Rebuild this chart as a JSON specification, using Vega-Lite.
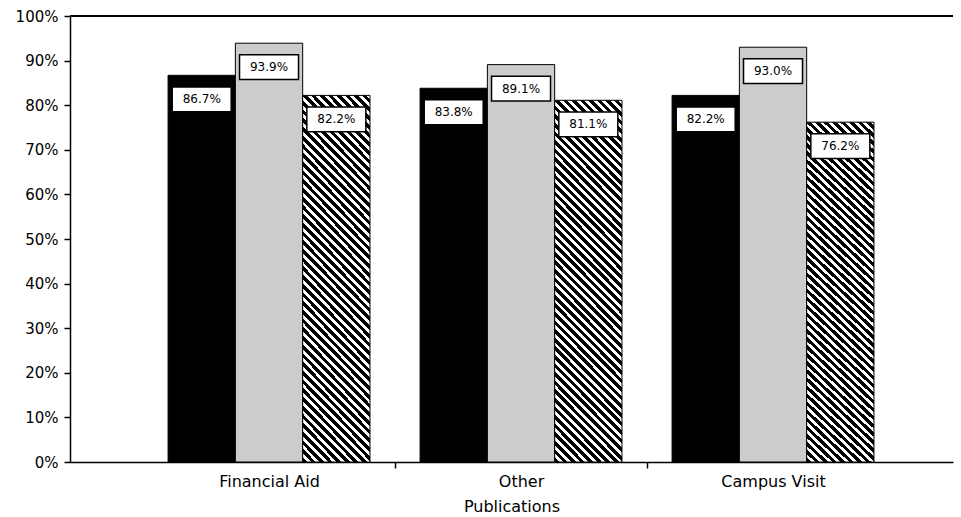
{
  "$schema": "https://vega.github.io/schema/vega-lite/v6.json",
  "width": 883,
  "height": 446,
  "autosize": "none",
  "padding": {"left": 70, "top": 16, "right": 8, "bottom": 55},
  "background": "white",
  "config": {"view": {"stroke": null}, "font": "DejaVu Sans"},
  "data": {"values": [
    {"cat": "Financial Aid", "s": "A", "v": 0.867},
    {"cat": "Financial Aid", "s": "B", "v": 0.939},
    {"cat": "Financial Aid", "s": "C", "v": 0.822},
    {"cat": "Other", "s": "A", "v": 0.838},
    {"cat": "Other", "s": "B", "v": 0.891},
    {"cat": "Other", "s": "C", "v": 0.811},
    {"cat": "Campus Visit", "s": "A", "v": 0.822},
    {"cat": "Campus Visit", "s": "B", "v": 0.930},
    {"cat": "Campus Visit", "s": "C", "v": 0.762}
  ]},
  "layer": [
    {
      "mark": {"type": "bar", "stroke": "#000", "strokeWidth": 1},
      "encoding": {
        "x": {"field": "cat", "type": "nominal", "sort": ["Financial Aid", "Other", "Campus Visit"],
              "scale": {"paddingInner": 0, "paddingOuter": 0.252, "align": 0.575},
              "axis": {"title": "Publications", "titleFontSize": 16, "titleFontWeight": "normal", "titleColor": "#000", "titlePadding": 9,
                       "labelFontSize": 16, "labelColor": "#000", "labelAngle": 0, "labelPadding": 5,
                       "tickSize": 6, "tickColor": "#000", "tickWidth": 1.5, "tickBand": "extent",
                       "tickOpacity": {"condition": {"test": "datum.value === 'Campus Visit' || datum.index < 0", "value": 0}, "value": 1},
                       "domainColor": "#000", "domainWidth": 1.5}},
        "xOffset": {"field": "s", "type": "nominal", "scale": {"paddingInner": 0, "paddingOuter": 0.372}},
        "y": {"field": "v", "type": "quantitative", "scale": {"domain": [0, 1], "nice": false},
              "axis": {"title": null, "values": [0, 0.1, 0.2, 0.3, 0.4, 0.5, 0.6, 0.7, 0.8, 0.9, 1], "format": ".0%",
                       "grid": false, "labelFontSize": 15, "labelColor": "#000", "labelPadding": 6,
                       "tickSize": 6, "tickColor": "#000", "tickWidth": 1.5, "domainColor": "#000", "domainWidth": 1.5}},
        "fill": {"condition": [
          {"test": "datum.s === 'A'", "value": "#000000"},
          {"test": "datum.s === 'B'", "value": "#cccccc"}],
          "value": {"gradient": "linear", "x1": 0, "y1": 1, "x2": 0.2153, "y2": -0.1476, "stops": [
{"offset":0,"color":"#000"},{"offset":0.011,"color":"#000"},{"offset":0.011,"color":"#fff"},{"offset":0.02,"color":"#fff"},
{"offset":0.02,"color":"#000"},{"offset":0.031,"color":"#000"},{"offset":0.031,"color":"#fff"},{"offset":0.04,"color":"#fff"},
{"offset":0.04,"color":"#000"},{"offset":0.051,"color":"#000"},{"offset":0.051,"color":"#fff"},{"offset":0.06,"color":"#fff"},
{"offset":0.06,"color":"#000"},{"offset":0.071,"color":"#000"},{"offset":0.071,"color":"#fff"},{"offset":0.08,"color":"#fff"},
{"offset":0.08,"color":"#000"},{"offset":0.091,"color":"#000"},{"offset":0.091,"color":"#fff"},{"offset":0.10,"color":"#fff"},
{"offset":0.10,"color":"#000"},{"offset":0.111,"color":"#000"},{"offset":0.111,"color":"#fff"},{"offset":0.12,"color":"#fff"},
{"offset":0.12,"color":"#000"},{"offset":0.131,"color":"#000"},{"offset":0.131,"color":"#fff"},{"offset":0.14,"color":"#fff"},
{"offset":0.14,"color":"#000"},{"offset":0.151,"color":"#000"},{"offset":0.151,"color":"#fff"},{"offset":0.16,"color":"#fff"},
{"offset":0.16,"color":"#000"},{"offset":0.171,"color":"#000"},{"offset":0.171,"color":"#fff"},{"offset":0.18,"color":"#fff"},
{"offset":0.18,"color":"#000"},{"offset":0.191,"color":"#000"},{"offset":0.191,"color":"#fff"},{"offset":0.20,"color":"#fff"},
{"offset":0.20,"color":"#000"},{"offset":0.211,"color":"#000"},{"offset":0.211,"color":"#fff"},{"offset":0.22,"color":"#fff"},
{"offset":0.22,"color":"#000"},{"offset":0.231,"color":"#000"},{"offset":0.231,"color":"#fff"},{"offset":0.24,"color":"#fff"},
{"offset":0.24,"color":"#000"},{"offset":0.251,"color":"#000"},{"offset":0.251,"color":"#fff"},{"offset":0.26,"color":"#fff"},
{"offset":0.26,"color":"#000"},{"offset":0.271,"color":"#000"},{"offset":0.271,"color":"#fff"},{"offset":0.28,"color":"#fff"},
{"offset":0.28,"color":"#000"},{"offset":0.291,"color":"#000"},{"offset":0.291,"color":"#fff"},{"offset":0.30,"color":"#fff"},
{"offset":0.30,"color":"#000"},{"offset":0.311,"color":"#000"},{"offset":0.311,"color":"#fff"},{"offset":0.32,"color":"#fff"},
{"offset":0.32,"color":"#000"},{"offset":0.331,"color":"#000"},{"offset":0.331,"color":"#fff"},{"offset":0.34,"color":"#fff"},
{"offset":0.34,"color":"#000"},{"offset":0.351,"color":"#000"},{"offset":0.351,"color":"#fff"},{"offset":0.36,"color":"#fff"},
{"offset":0.36,"color":"#000"},{"offset":0.371,"color":"#000"},{"offset":0.371,"color":"#fff"},{"offset":0.38,"color":"#fff"},
{"offset":0.38,"color":"#000"},{"offset":0.391,"color":"#000"},{"offset":0.391,"color":"#fff"},{"offset":0.40,"color":"#fff"},
{"offset":0.40,"color":"#000"},{"offset":0.411,"color":"#000"},{"offset":0.411,"color":"#fff"},{"offset":0.42,"color":"#fff"},
{"offset":0.42,"color":"#000"},{"offset":0.431,"color":"#000"},{"offset":0.431,"color":"#fff"},{"offset":0.44,"color":"#fff"},
{"offset":0.44,"color":"#000"},{"offset":0.451,"color":"#000"},{"offset":0.451,"color":"#fff"},{"offset":0.46,"color":"#fff"},
{"offset":0.46,"color":"#000"},{"offset":0.471,"color":"#000"},{"offset":0.471,"color":"#fff"},{"offset":0.48,"color":"#fff"},
{"offset":0.48,"color":"#000"},{"offset":0.491,"color":"#000"},{"offset":0.491,"color":"#fff"},{"offset":0.50,"color":"#fff"},
{"offset":0.50,"color":"#000"},{"offset":0.511,"color":"#000"},{"offset":0.511,"color":"#fff"},{"offset":0.52,"color":"#fff"},
{"offset":0.52,"color":"#000"},{"offset":0.531,"color":"#000"},{"offset":0.531,"color":"#fff"},{"offset":0.54,"color":"#fff"},
{"offset":0.54,"color":"#000"},{"offset":0.551,"color":"#000"},{"offset":0.551,"color":"#fff"},{"offset":0.56,"color":"#fff"},
{"offset":0.56,"color":"#000"},{"offset":0.571,"color":"#000"},{"offset":0.571,"color":"#fff"},{"offset":0.58,"color":"#fff"},
{"offset":0.58,"color":"#000"},{"offset":0.591,"color":"#000"},{"offset":0.591,"color":"#fff"},{"offset":0.60,"color":"#fff"},
{"offset":0.60,"color":"#000"},{"offset":0.611,"color":"#000"},{"offset":0.611,"color":"#fff"},{"offset":0.62,"color":"#fff"},
{"offset":0.62,"color":"#000"},{"offset":0.631,"color":"#000"},{"offset":0.631,"color":"#fff"},{"offset":0.64,"color":"#fff"},
{"offset":0.64,"color":"#000"},{"offset":0.651,"color":"#000"},{"offset":0.651,"color":"#fff"},{"offset":0.66,"color":"#fff"},
{"offset":0.66,"color":"#000"},{"offset":0.671,"color":"#000"},{"offset":0.671,"color":"#fff"},{"offset":0.68,"color":"#fff"},
{"offset":0.68,"color":"#000"},{"offset":0.691,"color":"#000"},{"offset":0.691,"color":"#fff"},{"offset":0.70,"color":"#fff"},
{"offset":0.70,"color":"#000"},{"offset":0.711,"color":"#000"},{"offset":0.711,"color":"#fff"},{"offset":0.72,"color":"#fff"},
{"offset":0.72,"color":"#000"},{"offset":0.731,"color":"#000"},{"offset":0.731,"color":"#fff"},{"offset":0.74,"color":"#fff"},
{"offset":0.74,"color":"#000"},{"offset":0.751,"color":"#000"},{"offset":0.751,"color":"#fff"},{"offset":0.76,"color":"#fff"},
{"offset":0.76,"color":"#000"},{"offset":0.771,"color":"#000"},{"offset":0.771,"color":"#fff"},{"offset":0.78,"color":"#fff"},
{"offset":0.78,"color":"#000"},{"offset":0.791,"color":"#000"},{"offset":0.791,"color":"#fff"},{"offset":0.80,"color":"#fff"},
{"offset":0.80,"color":"#000"},{"offset":0.811,"color":"#000"},{"offset":0.811,"color":"#fff"},{"offset":0.82,"color":"#fff"},
{"offset":0.82,"color":"#000"},{"offset":0.831,"color":"#000"},{"offset":0.831,"color":"#fff"},{"offset":0.84,"color":"#fff"},
{"offset":0.84,"color":"#000"},{"offset":0.851,"color":"#000"},{"offset":0.851,"color":"#fff"},{"offset":0.86,"color":"#fff"},
{"offset":0.86,"color":"#000"},{"offset":0.871,"color":"#000"},{"offset":0.871,"color":"#fff"},{"offset":0.88,"color":"#fff"},
{"offset":0.88,"color":"#000"},{"offset":0.891,"color":"#000"},{"offset":0.891,"color":"#fff"},{"offset":0.90,"color":"#fff"},
{"offset":0.90,"color":"#000"},{"offset":0.911,"color":"#000"},{"offset":0.911,"color":"#fff"},{"offset":0.92,"color":"#fff"},
{"offset":0.92,"color":"#000"},{"offset":0.931,"color":"#000"},{"offset":0.931,"color":"#fff"},{"offset":0.94,"color":"#fff"},
{"offset":0.94,"color":"#000"},{"offset":0.951,"color":"#000"},{"offset":0.951,"color":"#fff"},{"offset":0.96,"color":"#fff"},
{"offset":0.96,"color":"#000"},{"offset":0.971,"color":"#000"},{"offset":0.971,"color":"#fff"},{"offset":0.98,"color":"#fff"},
{"offset":0.98,"color":"#000"},{"offset":0.991,"color":"#000"},{"offset":0.991,"color":"#fff"},{"offset":1,"color":"#fff"}
          ]}}
      }
    },
    {
      "mark": {"type": "point", "shape": "M-1,-0.42H1V0.42H-1Z", "size": 3481, "filled": true, "fill": "#fff", "stroke": "#000", "strokeWidth": 1.5, "opacity": 1, "yOffset": 24},
      "encoding": {
        "x": {"field": "cat", "type": "nominal", "sort": ["Financial Aid", "Other", "Campus Visit"]},
        "xOffset": {"field": "s", "type": "nominal"},
        "y": {"field": "v", "type": "quantitative"}
      }
    },
    {
      "mark": {"type": "text", "fontSize": 12, "font": "DejaVu Sans", "color": "#000", "baseline": "middle", "align": "center", "yOffset": 24},
      "encoding": {
        "x": {"field": "cat", "type": "nominal", "sort": ["Financial Aid", "Other", "Campus Visit"]},
        "xOffset": {"field": "s", "type": "nominal"},
        "y": {"field": "v", "type": "quantitative"},
        "text": {"field": "v", "type": "quantitative", "format": ".1%"}
      }
    },
    {
      "mark": {"type": "rule", "color": "#000", "strokeWidth": 1.5},
      "encoding": {"y": {"datum": 1}}
    }
  ]
}
